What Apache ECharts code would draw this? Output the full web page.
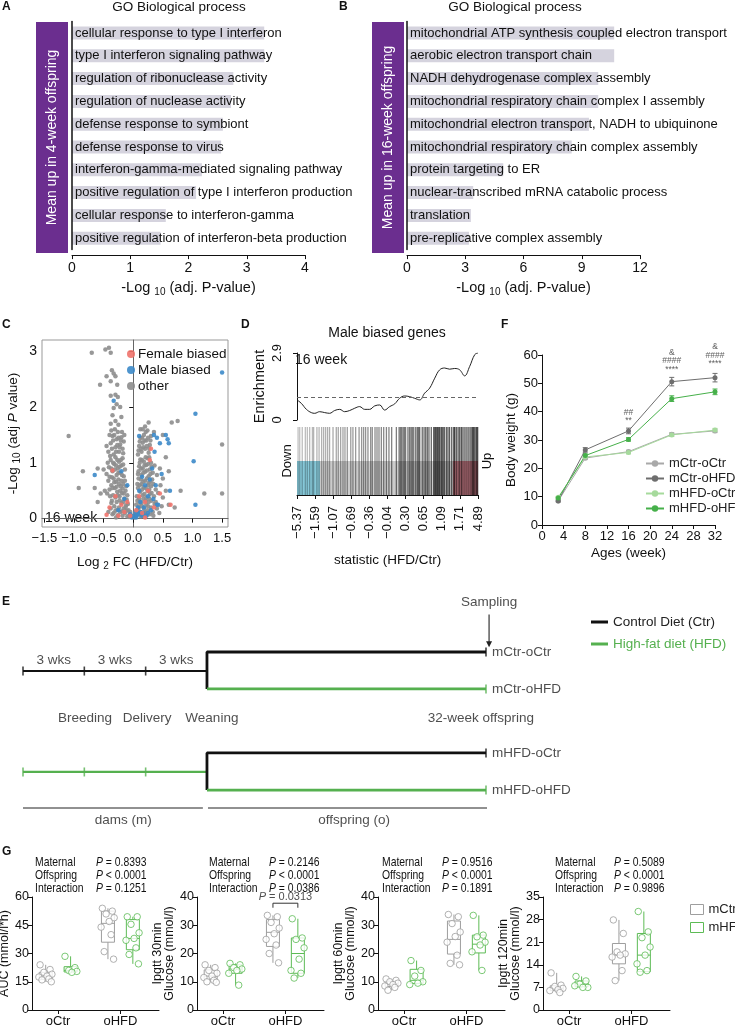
<!DOCTYPE html>
<html><head><meta charset="utf-8">
<script src="https://cdn.jsdelivr.net/npm/echarts@6/dist/echarts.min.js"></script>
<style>html,body{margin:0;padding:0;background:#fff}#c{width:735px;height:1028px}</style>
</head><body><div id="c"></div>
<script>
const FONT = '"Liberation Sans", Arial, Helvetica, sans-serif';

// ---------- Panel A / B : GO terms ----------
const termsA = ['cellular response to type I interferon','type I interferon signaling pathway','regulation of ribonuclease activity','regulation of nuclease activity','defense response to symbiont','defense response to virus','interferon-gamma-mediated signaling pathway','positive regulation of type I interferon production','cellular response to interferon-gamma','positive regulation of interferon-beta production'];
const valuesA = [3.30,3.30,2.77,2.73,2.59,2.56,2.23,2.13,1.61,1.52];
const termsB = ['mitochondrial ATP synthesis coupled electron transport','aerobic electron transport chain','NADH dehydrogenase complex assembly','mitochondrial respiratory chain complex I assembly','mitochondrial electron transport, NADH to ubiquinone','mitochondrial respiratory chain complex assembly','protein targeting to ER','nuclear-transcribed mRNA catabolic process','translation','pre-replicative complex assembly'];
const valuesB = [10.67,10.67,9.85,9.85,9.37,8.48,4.96,3.41,3.29,3.19];

// ---------- Panel C : volcano ----------
const volcanoOther = [[-0.42,0.12],[-0.38,0.18],[-0.35,0.08],[-0.32,0.22],[-0.3,0.14],[-0.28,0.3],[-0.26,0.06],[-0.24,0.2],[-0.22,0.12],[-0.2,0.28],[-0.18,0.05],[-0.16,0.18],[-0.14,0.1],[-0.12,0.24],[-0.1,0.04],[-0.08,0.15],[-0.06,0.08],[-0.04,0.03],[-0.3,0.38],[-0.36,0.32],
[-0.44,0.45],[-0.4,0.52],[-0.37,0.6],[-0.34,0.42],[-0.31,0.55],[-0.29,0.66],[-0.27,0.48],[-0.25,0.7],[-0.23,0.4],[-0.21,0.58],[-0.19,0.46],[-0.17,0.62],[-0.15,0.36],[-0.13,0.5],[-0.11,0.34],[-0.42,0.68],[-0.33,0.72],[-0.2,0.68],[-0.48,0.5],[-0.1,0.42],
[-0.45,0.8],[-0.41,0.92],[-0.38,1.05],[-0.35,0.85],[-0.32,0.98],[-0.3,1.1],[-0.28,0.78],[-0.26,0.9],[-0.24,1.02],[-0.22,0.82],[-0.2,0.95],[-0.18,1.08],[-0.16,0.76],[-0.14,0.88],[-0.43,1.0],[-0.36,0.74],[-0.5,0.88],
[-0.42,1.2],[-0.38,1.35],[-0.35,1.48],[-0.33,1.15],[-0.3,1.28],[-0.28,1.42],[-0.26,1.55],[-0.24,1.2],[-0.22,1.33],[-0.2,1.46],[-0.18,1.25],[-0.16,1.38],[-0.4,1.5],[-0.45,1.3],[-0.15,1.5],[-0.31,1.6],
[-0.38,1.7],[-0.3,1.75],[-0.25,1.68],[-0.35,1.85],[-0.2,1.82],[-0.33,1.98],[-0.28,2.05],[-0.22,2.0],[-0.38,2.2],[-0.3,2.22],[-0.26,2.18],[-0.56,2.4],[-0.27,2.4],[-0.45,2.55],[-0.3,2.55],[-0.38,2.46],[-0.36,2.66],[-0.33,2.6],[-0.47,3.03],[-0.41,3.06],[-0.38,2.97],[-0.7,2.97],
[-1.09,1.48],[-0.85,0.85],[-0.92,0.55],[-0.6,0.9],[-0.55,0.45],[-0.6,0.3],[-0.65,0.55],
[-0.37,0.28],[-0.33,0.1],[-0.29,0.02],[-0.27,0.16],[-0.23,0.33],[-0.19,0.13],[-0.17,0.3],[-0.13,0.2],[-0.11,0.14],[-0.09,0.26],[-0.07,0.03],[-0.05,0.12],[-0.39,0.4],[-0.35,0.55],[-0.32,0.65],[-0.28,0.57],[-0.26,0.42],[-0.24,0.62],[-0.22,0.5],[-0.18,0.54],[-0.16,0.45],[-0.14,0.68],[-0.12,0.58],[-0.4,0.75],[-0.37,0.9],[-0.34,1.0],[-0.31,0.88],[-0.29,0.95],[-0.27,1.05],[-0.25,0.82],[-0.23,0.93],[-0.21,1.05],[-0.19,0.78],[-0.17,0.97],[-0.39,1.12],[-0.36,1.25],[-0.34,1.4],[-0.32,1.5],[-0.29,1.2],[-0.27,1.32],[-0.25,1.45],[-0.23,1.28],[-0.21,1.4],[-0.19,1.55],[-0.17,1.17],[-0.37,1.58],
[0.04,0.05],[0.06,0.15],[0.08,0.08],[0.1,0.22],[0.12,0.12],[0.14,0.28],[0.16,0.06],[0.18,0.18],[0.2,0.1],[0.22,0.25],[0.24,0.15],[0.26,0.3],[0.28,0.08],[0.3,0.2],[0.33,0.12],[0.36,0.26],[0.4,0.18],[0.44,0.1],[0.02,0.02],[0.48,0.22],
[0.06,0.4],[0.08,0.55],[0.1,0.36],[0.12,0.48],[0.14,0.62],[0.16,0.42],[0.18,0.56],[0.2,0.68],[0.22,0.38],[0.24,0.5],[0.26,0.64],[0.28,0.44],[0.3,0.58],[0.32,0.7],[0.35,0.4],[0.38,0.52],[0.42,0.46],[0.46,0.6],[0.5,0.38],[0.55,0.5],
[0.08,0.8],[0.1,0.94],[0.12,1.06],[0.14,0.78],[0.16,0.9],[0.18,1.02],[0.2,0.84],[0.22,0.96],[0.24,1.08],[0.26,0.76],[0.28,0.88],[0.3,1.0],[0.33,0.82],[0.36,0.95],[0.4,0.78],[0.45,0.9],[0.5,0.72],
[0.08,1.15],[0.1,1.3],[0.12,1.45],[0.14,1.2],[0.16,1.36],[0.18,1.5],[0.2,1.25],[0.22,1.4],[0.24,1.58],[0.26,1.18],[0.28,1.32],[0.3,1.48],[0.2,1.65],[0.26,1.72],[0.35,1.55],[0.12,1.6],
[0.03,0.1],[0.05,0.25],[0.07,0.32],[0.09,0.18],[0.11,0.3],[0.13,0.04],[0.15,0.22],[0.17,0.35],[0.19,0.12],[0.21,0.32],[0.23,0.06],[0.25,0.22],[0.27,0.36],[0.31,0.32],[0.34,0.05],[0.38,0.3],[0.07,0.62],[0.09,0.72],[0.11,0.6],[0.13,0.7],[0.15,0.52],[0.17,0.66],[0.19,0.44],[0.21,0.55],[0.23,0.72],[0.25,0.6],[0.27,0.52],[0.29,0.66],[0.31,0.46],[0.34,0.62],[0.09,0.85],[0.11,1.0],[0.13,0.9],[0.15,1.05],[0.17,0.82],[0.19,0.95],[0.21,1.1],[0.23,0.86],[0.25,0.98],[0.27,1.1],[0.29,0.8],[0.31,0.93],[0.09,1.22],[0.11,1.38],[0.13,1.25],[0.15,1.45],[0.17,1.28],[0.19,1.4],[0.21,1.55],[0.23,1.3],[0.25,1.45],[0.27,1.25],[0.29,1.4],[0.16,1.6],
[0.5,1.5],[0.65,1.72],[0.75,1.75],[1.5,1.33],[1.2,0.45],[1.5,0.45],[0.8,0.5],[0.7,0.2],[0.6,0.85],[0.55,1.1],[0.6,0.25]];
const volcanoMale = [[-0.65,0.78],[-0.33,2.11],[-0.2,0.85],[-0.1,0.6],[0.1,0.5],[0.12,0.3],[0.15,0.75],[0.18,0.2],[0.2,0.6],[0.22,0.05],[0.25,0.4],[0.28,0.7],[0.3,0.15],[0.32,0.9],[0.34,0.35],[0.36,1.2],[0.38,0.6],[0.4,1.45],[0.42,0.25],[0.45,1.35],[0.48,0.8],[0.55,1.5],[0.6,1.35],[0.62,0.5],[0.35,1.5],[1.05,1.88],[1.02,1.03],[1.05,0.25],[1.5,2.62],[0.05,0.02],[0.08,0.1],[0.0,0.05],[-0.05,0.08],[0.15,0.05],[0.25,0.1],[-0.25,0.15],[-0.15,0.35],[0.58,1.42],[0.4,0.25],[0.1,1.48],
[0.02,0.03],[0.06,0.06],[0.1,0.08],[0.13,0.12],[0.04,0.12],[-0.02,0.02],[0.17,0.09],[0.08,0.2]];
const volcanoFemale = [[-0.45,0.07],[-0.4,0.2],[-0.35,0.86],[-0.3,0.4],[-0.25,0.05],[-0.2,0.25],[-0.15,0.12],[-0.1,0.3],[0.05,0.15],[0.1,0.4],[0.15,0.1],[0.2,0.3],[0.25,0.5],[0.28,1.05],[0.3,1.25],[0.35,0.2],[0.45,0.45],[0.63,0.25],[0.2,0.02],[-0.05,0.05]];
const volcanoTicksX = [-1.5,-1.0,-0.5,0,0.5,1.0,1.5];
const volcanoTicksY = [0,1,2,3];

// ---------- Panel D : barcode ----------
const enrichX = [0,0.024,0.052,0.079,0.098,0.125,0.153,0.180,0.208,0.236,0.263,0.291,0.319,0.346,0.374,0.401,0.429,0.457,0.484,0.512,0.540,0.567,0.595,0.622,0.650,0.678,0.705,0.733,0.761,0.788,0.816,0.843,0.871,0.899,0.926,0.954,0.982,1.0];
const enrichY = [0.87,0.72,0.46,0.32,0.29,0.36,0.32,0.29,0.41,0.46,0.36,0.41,0.51,0.58,0.46,0.46,0.61,0.65,0.43,0.58,0.70,0.94,1.04,1.01,0.94,0.87,1.16,1.38,1.81,2.17,2.25,2.20,2.23,2.17,1.91,2.32,2.83,2.90];
const barcodeRanks = [.006,.015,.029,.046,.057,.070,.085,.092,.110,.122,.136,.147,.158,.169,.180,.199,.217,.228,.241,.254,.265,.278,.297,.309,.324,.343,.357,.368,.379,.392,.407,.416,.431,.442,.453,.466,.479,.494,.508,.523,.549,.564,.571,.578,.586,.593,.600,.613,.622,.630,.637,.645,.656,.665,.672,.678,.692,.702,.711,.720,.729,.742,.755,.761,.766,.772,.777,.783,.788,.796,.801,.807,.814,.825,.834,.843,.855,.866,.871,.880,.890,.899,.908,.917,.928,.939,.950,.961,.969,.976,.983,.991,.998];
const barcodeTickPos = [0,0.1,0.2,0.3,0.4,0.5,0.6,0.7,0.8,0.9,1.0];
const barcodeTickLabels = ['\u22125.37','\u22121.59','\u22121.07','\u22120.69','\u22120.36','\u22120.04','0.30','0.65','1.09','1.71','4.89'];
const barcodeDown = [0, 0.127];
const barcodeUp = [0.862, 1];
const enrichThreshold = 1.0;

// ---------- Panel F : body weight ----------
const weeks = [3, 8, 16, 24, 32];
const bwCtrCtr = [8.5, 23.6, 25.9, 32.0, 33.2];
const bwCtrHfd = [8.5, 26.5, 33.2, 50.6, 52.0];
const bwHfdCtr = [9.8, 24.0, 25.6, 31.8, 33.5];
const bwHfdHfd = [9.5, 24.5, 30.2, 44.6, 47.0];
const seCtrCtr = [0.3, 0.5, 0.5, 0.6, 0.6];
const seCtrHfd = [0.3, 0.8, 1.0, 1.5, 1.5];
const seHfdCtr = [0.3, 0.5, 0.5, 0.5, 0.6];
const seHfdHfd = [0.3, 0.6, 0.6, 1.0, 1.0];
const fAnnoX = [16,16,24,24,24,32,32,32];
const fAnnoY = [39.5,36.8,60.7,57.9,55.0,62.8,59.7,56.8];
const fAnnoText = ['##','**','&','####','****','&','####','****'];

// ---------- Panel E : timeline ----------
const eDamsTicks = [0, 3, 6, 9];
const eEnd = 22.65;
const eRows = [0, 1.22, 2.37, 6.47, 7.69, 8.85, 10];
const eGroupNames = ['mCtr-oCtr','mCtr-oHFD','mHFD-oCtr','mHFD-oHFD'];
const eWksX = [1.5, 4.5, 7.5];
const eStageNames = ['Breeding','Delivery','Weaning','32-week offspring'];
const eStageX = [3.03, 6.07, 9.24, 22.4];
const eSampling = [-2.4, -0.3];

// ---------- Panel G : box plots ----------
const gGroupLabels = ['oCtr','oHFD'];
const gJitter = [-0.09,0.07,-0.03,0.10,0.02,-0.11,0.05,-0.06,0.09,-0.01];
const aucCtrOCtr = [24,21.5,20,19,18,17.5,16.5,16,15];
const aucHfdOCtr = [28.5,22.5,21,20.5,20];
const aucCtrOHfd = [54,52.5,51,49,47,44,40,31,27];
const aucHfdOHfd = [49.5,49.5,45.5,41,38,37,33,29.5,24.5];
const aucBoxCtr = [[15,16.3,18,20,24],[27,36,46,52.5,54]];
const aucBoxHfd = [[20,20.2,21,23,28.5],[24.5,32,38,48,49.5]];
const g30CtrOCtr = [16,15,14,13,12,11.5,10.5,10,9.8];
const g30HfdOCtr = [16.5,16,15,14.5,14,13,8.8];
const g30CtrOHfd = [33.5,33,31,29,27,25,23,20,16.7];
const g30HfdOHfd = [32.3,25.5,25,22,18,14,13,11.3];
const g30BoxCtr = [[9.8,10.8,12,14.2,16],[16.7,22.5,27.5,32,33.5]];
const g30BoxHfd = [[8.8,13,14.5,16,16.5],[11.3,13,20,25.5,32.3]];
const g60CtrOCtr = [11,10.5,10,9.5,9,8.5,8,7];
const g60HfdOCtr = [17.5,14,12,10,9.5,9];
const g60CtrOHfd = [33.8,33,30.6,27.6,26,24,19.4,16.5,16];
const g60HfdOHfd = [33.5,26.5,25.9,24,23,20.6,14];
const g60BoxCtr = [[7,8.3,9.3,10.2,11],[16,19.8,25,31.5,33.8]];
const g60BoxHfd = [[9,9.4,10.5,14.4,17.5],[14,20.2,23.3,26.5,33.5]];
const g120CtrOCtr = [11.5,7.7,7.3,6.7,6.3,6,5.4];
const g120HfdOCtr = [10.4,9,8,7,7,7.5];
const g120CtrOHfd = [27.9,23.7,18,17.4,17,16.4,12.2,9.1];
const g120HfdOHfd = [30.5,24.2,22.4,19.5,17,14.3,12.2,11.7];
const g120BoxCtr = [[5.4,6,6.7,7.5,11.5],[9.1,14.3,17,20.6,27.9]];
const g120BoxHfd = [[7,7.2,8,9,10.4],[11.7,11.9,17,23.7,30.5]];
const gNames = ['AUC (mmol/l*h)','Ipgtt 30min\nGlucose (mmol/l)','Ipgtt 60min\nGlucose (mmol/l)','Ipgtt 120min\nGlucose (mmol/l)'];
const gMax = [60,40,40,35];
const gInterval = [15,10,10,7];
const gStatLabels = ['Maternal','Offspring','Interaction'];
const gStats = [['= 0.8393','< 0.0001','= 0.1251'],['= 0.2146','< 0.0001','= 0.0386'],['= 0.9516','< 0.0001','= 0.1891'],['= 0.5089','< 0.0001','= 0.9896']];
const gPair = [1.8, 2.2];
const gPairY = 37.8;
const gPairP = '0.0313';

// ---------- helpers ----------
const C_BLACK = '#111';
const GREEN = '#55b04f';
function merge(a, b) {
  const o = Object.assign({}, a);
  for (const k in b) {
    if (b[k] && typeof b[k] === 'object' && !Array.isArray(b[k]) && a && a[k] && typeof a[k] === 'object' && !Array.isArray(a[k])) o[k] = merge(a[k], b[k]);
    else o[k] = b[k];
  }
  return o;
}
const baseAxis = {
  axisLine: {show: true, lineStyle: {color: C_BLACK, width: 1}},
  axisTick: {show: true, length: 4, lineStyle: {color: C_BLACK, width: 1}},
  axisLabel: {color: C_BLACK, fontSize: 13, fontFamily: FONT},
  splitLine: {show: false},
  nameTextStyle: {color: C_BLACK, fontSize: 13, fontFamily: FONT}
};
const ax = (o) => merge(baseAxis, o);
const hidden = (o) => Object.assign({show: false, splitLine: {show: false}}, o);

const grids = [
  {left: 72, top: 21.6, width: 233, height: 228},     // 0 A
  {left: 407, top: 21.6, width: 233, height: 228},    // 1 B
  {left: 42, top: 340, width: 186, height: 187, show: true, borderColor: '#999', borderWidth: 1}, // 2 C
  {left: 297, top: 353, width: 181, height: 67},      // 3 D enrichment
  {left: 297, top: 427, width: 181, height: 68},      // 4 D barcode
  {left: 542, top: 355, width: 173, height: 170},     // 5 F
  {left: 23, top: 589.6, width: 463, height: 234},    // 6 E
  {left: 32, top: 897, width: 127, height: 113},      // 7 G1
  {left: 197, top: 897, width: 127, height: 113},     // 8 G2
  {left: 378, top: 897, width: 127, height: 113},     // 9 G3
  {left: 543, top: 897, width: 127, height: 113}      // 10 G4
].map(g => Object.assign({outerBoundsMode: 'none', containLabel: false}, g));

const goName = '-Log {s|10} (adj. P-value)';
const goNameStyle = {fontSize: 14.5, color: C_BLACK, fontFamily: FONT, rich: {s: {fontSize: 10, padding: [8, 0, 0, 0], fontFamily: FONT, color: C_BLACK}}};

const xAxes = [
  ax({gridIndex: 0, type: 'value', min: 0, max: 4, interval: 1, offset: 5.5, axisLabel: {fontSize: 14, margin: 6}, name: goName, nameLocation: 'middle', nameGap: 24, nameTextStyle: goNameStyle}),
  ax({gridIndex: 1, type: 'value', min: 0, max: 12, interval: 3, offset: 5.5, axisLabel: {fontSize: 14, margin: 6}, name: goName, nameLocation: 'middle', nameGap: 24, nameTextStyle: goNameStyle}),
  ax({gridIndex: 2, type: 'value', min: -1.54, max: 1.60, axisLine: {lineStyle: {color: '#666'}},
      axisTick: {customValues: volcanoTicksX}, axisLabel: {customValues: volcanoTicksX, margin: 5, formatter: v => (v < 0 ? '\u2212' : '') + Math.abs(v).toFixed(1)},
      name: 'Log {s|2} FC (HFD/Ctr)', nameLocation: 'middle', nameGap: 26,
      nameTextStyle: {fontSize: 13.5, rich: {s: {fontSize: 10, padding: [8, 0, 0, 0], color: C_BLACK}}}}),
  hidden({gridIndex: 3, type: 'value', min: 0, max: 1}),
  ax({gridIndex: 4, type: 'value', min: 0, max: 1, offset: 5,
      axisTick: {customValues: barcodeTickPos, length: 4}, axisLabel: {customValues: barcodeTickPos, rotate: 90, margin: 6, fontSize: 13, formatter: v => barcodeTickLabels[Math.round(v * 10)]},
      name: 'statistic (HFD/Ctr)', nameLocation: 'middle', nameGap: 53, nameTextStyle: {fontSize: 13.5}}),
  ax({gridIndex: 5, type: 'value', min: 0, max: 32, interval: 4, axisLabel: {margin: 5}, name: 'Ages (week)', nameLocation: 'middle', nameGap: 21, nameTextStyle: {fontSize: 13.5}}),
  hidden({gridIndex: 6, type: 'value', min: 0, max: eEnd}),
];
const yAxes = [
  {gridIndex: 0, type: 'category', data: termsA, inverse: true, z: 5, axisLine: {show: true, lineStyle: {color: C_BLACK, width: 1.5}}, axisTick: {show: false}, axisLabel: {show: false}, splitLine: {show: false}},
  {gridIndex: 1, type: 'category', data: termsB, inverse: true, z: 5, axisLine: {show: true, lineStyle: {color: C_BLACK, width: 1.5}}, axisTick: {show: false}, axisLabel: {show: false}, splitLine: {show: false}},
  ax({gridIndex: 2, type: 'value', min: -0.15, max: 3.2, axisLine: {lineStyle: {color: '#666'}},
      axisTick: {customValues: volcanoTicksY}, axisLabel: {customValues: volcanoTicksY, fontSize: 14, margin: 5},
      name: '-Log {s|10} (adj {i|P} value)', nameLocation: 'middle', nameGap: 20,
      nameTextStyle: {fontSize: 13.5, rich: {s: {fontSize: 10, padding: [8, 0, 0, 0], color: C_BLACK}, i: {fontStyle: 'italic', fontSize: 13.5, color: C_BLACK}}}}),
  ax({gridIndex: 3, type: 'value', min: 0, max: 2.9, offset: 8,
      axisTick: {customValues: [0, 2.9], length: 4}, axisLabel: {customValues: [0, 2.9], rotate: 90, margin: 5, fontSize: 13},
      name: 'Enrichment', nameLocation: 'middle', nameGap: 22, nameTextStyle: {fontSize: 14.5}}),
  {gridIndex: 4, type: 'value', min: 0, max: 1, axisLine: {show: false}, axisTick: {show: false}, axisLabel: {show: false}, splitLine: {show: false},
      name: 'Down', nameLocation: 'middle', nameGap: 3, nameRotate: 90, nameTextStyle: {fontSize: 13, color: C_BLACK, fontFamily: FONT}},
  ax({gridIndex: 5, type: 'value', min: 0, max: 60, interval: 10, axisLabel: {margin: 4}, name: 'Body weight (g)', nameLocation: 'middle', nameGap: 24, nameTextStyle: {fontSize: 13.5}}),
  hidden({gridIndex: 6, type: 'value', min: -4, max: 11, inverse: true}),
];
for (let p = 0; p < 4; p++) {
  xAxes.push(ax({gridIndex: 7 + p, type: 'value', min: 0.58, max: 2.62,
    axisTick: {customValues: [1, 2]}, axisLabel: {customValues: [1, 2], margin: 5, fontSize: 13, formatter: v => gGroupLabels[Math.round(v) - 1]}}));
  yAxes.push(ax({gridIndex: 7 + p, type: 'value', min: 0, max: gMax[p], interval: gInterval[p], axisLabel: {margin: 3, fontSize: 12.5},
    name: gNames[p], nameLocation: 'middle', nameGap: [19, 8, 12, 8][p], nameTextStyle: {fontSize: 12.5, lineHeight: 12}}));
}
yAxes.push({gridIndex: 4, type: 'value', position: 'right', min: 0, max: 1, axisLine: {show: false}, axisTick: {show: false}, axisLabel: {show: false}, splitLine: {show: false},
  name: 'Up', nameLocation: 'middle', nameGap: 3, nameRotate: 90, nameTextStyle: {fontSize: 13, color: C_BLACK, fontFamily: FONT}});

const series = [];
[[valuesA, 0], [valuesB, 1]].forEach(([vals, gi]) => {
  series.push({type: 'bar', xAxisIndex: gi, yAxisIndex: gi, data: vals, barWidth: 13, silent: true,
    itemStyle: {color: '#d5d3de'},
    label: {show: true, position: 'insideLeft', distance: 3, formatter: p => p.name, color: '#111', fontSize: 13, fontFamily: FONT}});
});
const vSym = {type: 'scatter', xAxisIndex: 2, yAxisIndex: 2, symbolSize: 4.5, silent: true};
series.push(Object.assign({name: 'other', data: volcanoOther, itemStyle: {color: '#8d8d8d', opacity: 0.9}}, vSym));
series.push(Object.assign({name: 'Male biased', data: volcanoMale, itemStyle: {color: '#3c89c9', opacity: 0.9}}, vSym));
series.push(Object.assign({name: 'Female biased', data: volcanoFemale, itemStyle: {color: '#ef736b', opacity: 0.9}}, vSym));
series.push({type: 'line', xAxisIndex: 3, yAxisIndex: 3, data: enrichX.map((x, i) => [x, enrichY[i]]), smooth: 0.4, showSymbol: false, symbol: 'none', silent: true,
  lineStyle: {color: '#222', width: 1},
  markLine: {silent: true, symbol: 'none', label: {show: false}, lineStyle: {type: [4, 3], color: '#666', width: 1}, data: [{yAxis: enrichThreshold}]}});
series.push({type: 'scatter', xAxisIndex: 4, yAxisIndex: 4, data: [[0.5, -1]], symbolSize: 0, z: 1, silent: true,
  markArea: {silent: true, data: [
    [{coord: [0, 0], itemStyle: {color: '#cbcbcb'}}, {coord: [1, 0.5]}],
    [{coord: [barcodeDown[0], 0], itemStyle: {color: '#86c8d8'}}, {coord: [barcodeDown[1], 0.5]}],
    [{coord: [barcodeUp[0], 0], itemStyle: {color: '#e8909c'}}, {coord: [barcodeUp[1], 0.5]}]
  ]}});
series.push({type: 'scatter', xAxisIndex: 4, yAxisIndex: 4, z: 3, silent: true, symbol: 'rect', symbolSize: [1.3, 68],
  data: barcodeRanks.map(r => [r, 0.5]),
  itemStyle: {color: p => 'rgba(0,0,0,' + (0.3 + 0.6 * p.value[0]).toFixed(2) + ')'}});
const fSeries = [['mCtr-oCtr', bwCtrCtr, seCtrCtr, '#a9a9a9'], ['mCtr-oHFD', bwCtrHfd, seCtrHfd, '#6e6e6e'], ['mHFD-oCtr', bwHfdCtr, seHfdCtr, '#a6da9c'], ['mHFD-oHFD', bwHfdHfd, seHfdHfd, '#46b04a']];
fSeries.forEach(([name, vals, se, col]) => {
  series.push({type: 'line', name, xAxisIndex: 5, yAxisIndex: 5, data: weeks.map((w, i) => [w, vals[i]]), symbol: 'circle', symbolSize: 5, silent: true,
    lineStyle: {color: col, width: 1}, itemStyle: {color: col}});
  series.push({type: 'custom', name: name + ' se', xAxisIndex: 5, yAxisIndex: 5, silent: true, data: weeks.map((w, i) => [w, vals[i], se[i]]),
    encode: {x: 0, y: 1},
    renderItem: (params, api) => {
      const x = api.value(0), m = api.value(1), e = api.value(2);
      const t = api.coord([x, m + e]), b = api.coord([x, m - e]);
      const st = {stroke: col, lineWidth: 1};
      return {type: 'group', children: [
        {type: 'line', shape: {x1: t[0], y1: t[1], x2: b[0], y2: b[1]}, style: st},
        {type: 'line', shape: {x1: t[0] - 2.5, y1: t[1], x2: t[0] + 2.5, y2: t[1]}, style: st},
        {type: 'line', shape: {x1: b[0] - 2.5, y1: b[1], x2: b[0] + 2.5, y2: b[1]}, style: st}]};
    }});
});
series.push({type: 'scatter', xAxisIndex: 5, yAxisIndex: 5, symbolSize: 0, clip: false, silent: true,
  data: fAnnoX.map((x, i) => ({value: [x, fAnnoY[i]], name: fAnnoText[i]})),
  label: {show: true, position: 'inside', formatter: p => p.name, fontSize: 8.5, color: '#333', fontFamily: FONT}});
// E timeline
const lineS = (name, pts, color, width) => ({type: 'line', name, xAxisIndex: 6, yAxisIndex: 6, data: pts, symbol: 'none', silent: true, clip: false,
  lineStyle: {color, width}, itemStyle: {color}});
series.push(lineS('Control Diet (Ctr)', [[eDamsTicks[0], eRows[1]], [eDamsTicks[3], eRows[1]]], C_BLACK, 2));
series.push(lineS('Control Diet (Ctr)', [[eEnd, eRows[0]], [eDamsTicks[3], eRows[0]], [eDamsTicks[3], eRows[2]]], C_BLACK, 2.8));
series.push(lineS('High-fat diet (HFD)', [[eDamsTicks[3], eRows[2]], [eEnd, eRows[2]]], GREEN, 2.8));
series.push(lineS('High-fat diet (HFD)', [[eDamsTicks[0], eRows[4]], [eDamsTicks[3], eRows[4]]], GREEN, 2.2));
series.push(lineS('Control Diet (Ctr)', [[eEnd, eRows[3]], [eDamsTicks[3], eRows[3]], [eDamsTicks[3], eRows[5]]], C_BLACK, 2.8));
series.push(lineS('High-fat diet (HFD)', [[eDamsTicks[3], eRows[5]], [eEnd, eRows[5]]], GREEN, 2.8));
series.push(lineS('base', [[0, eRows[6]], [8.8, eRows[6]]], '#222', 1));
series.push(lineS('base', [[9.05, eRows[6]], [eEnd + 0.1, eRows[6]]], '#222', 1));
series.push({type: 'custom', name: 'sampling', xAxisIndex: 6, yAxisIndex: 6, silent: true, clip: false,
  data: [[eEnd + 0.15, eSampling[0], eSampling[1]]], encode: {x: 0, y: [1, 2]},
  renderItem: (params, api) => {
    const a = api.coord([api.value(0), api.value(1)]), b = api.coord([api.value(0), api.value(2)]);
    return {type: 'group', children: [
      {type: 'line', shape: {x1: a[0], y1: a[1], x2: b[0], y2: b[1] - 5}, style: {stroke: '#222', lineWidth: 1.1}},
      {type: 'polygon', shape: {points: [[b[0] - 3, b[1] - 6], [b[0] + 3, b[1] - 6], [b[0], b[1]]]}, style: {fill: '#222'}}]};
  }});
const tickS = (pts, color) => ({type: 'scatter', xAxisIndex: 6, yAxisIndex: 6, data: pts, symbol: 'rect', symbolSize: [1.6, 9], silent: true, clip: false, itemStyle: {color}});
series.push(tickS(eDamsTicks.slice(0, 3).map(x => [x, eRows[1]]).concat([[eEnd, eRows[0]], [eEnd, eRows[3]]]), C_BLACK));
series.push(tickS(eDamsTicks.slice(0, 3).map(x => [x, eRows[4]]).concat([[eEnd, eRows[2]], [eEnd, eRows[5]]]), GREEN));
const eText = {fontSize: 13.5, color: '#222', fontFamily: FONT};
series.push({type: 'scatter', xAxisIndex: 6, yAxisIndex: 6, symbolSize: 0, silent: true, clip: false,
  data: [eRows[0], eRows[2], eRows[3], eRows[5]].map((y, i) => ({value: [eEnd, y], name: eGroupNames[i]})),
  label: Object.assign({show: true, position: 'right', distance: 6, formatter: p => p.name}, eText)});
series.push({type: 'scatter', xAxisIndex: 6, yAxisIndex: 6, symbolSize: 0, silent: true, clip: false,
  data: eWksX.map(x => ({value: [x, 0.5], name: '3 wks'}))
    .concat(eStageX.map((x, i) => ({value: [x, 4.23], name: eStageNames[i]})))
    .concat([{value: [4.9, 10.8], name: 'dams (m)'}, {value: [16.2, 10.8], name: 'offspring (o)'}, {value: [eEnd + 0.15, -3.2], name: 'Sampling'}]),
  label: Object.assign({show: true, position: 'inside', formatter: p => p.name}, eText)});
// G
const gPts = [[aucCtrOCtr, aucCtrOHfd, aucHfdOCtr, aucHfdOHfd], [g30CtrOCtr, g30CtrOHfd, g30HfdOCtr, g30HfdOHfd], [g60CtrOCtr, g60CtrOHfd, g60HfdOCtr, g60HfdOHfd], [g120CtrOCtr, g120CtrOHfd, g120HfdOCtr, g120HfdOHfd]];
const gBoxes = [[aucBoxCtr, aucBoxHfd], [g30BoxCtr, g30BoxHfd], [g60BoxCtr, g60BoxHfd], [g120BoxCtr, g120BoxHfd]];
const gCols = ['#9e9e9e', '#5dbb55'];
const boxRender = (col) => (params, api) => {
  const x = api.value(0);
  const lo = api.coord([x, api.value(1)]), q1 = api.coord([x, api.value(2)]), md = api.coord([x, api.value(3)]), q3 = api.coord([x, api.value(4)]), hi = api.coord([x, api.value(5)]);
  const w = 13, st = {stroke: col, fill: 'none', lineWidth: 1};
  return {type: 'group', children: [
    {type: 'line', shape: {x1: lo[0], y1: lo[1], x2: q1[0], y2: q1[1]}, style: st},
    {type: 'line', shape: {x1: q3[0], y1: q3[1], x2: hi[0], y2: hi[1]}, style: st},
    {type: 'rect', shape: {x: q3[0] - w / 2, y: q3[1], width: w, height: q1[1] - q3[1]}, style: st},
    {type: 'line', shape: {x1: md[0] - w / 2, y1: md[1], x2: md[0] + w / 2, y2: md[1]}, style: st}]};
};
for (let p = 0; p < 4; p++) {
  ['mCtr', 'mHFD'].forEach((nm, k) => {
    const dx = k === 0 ? -0.2 : 0.2;
    series.push({type: 'custom', name: nm, xAxisIndex: 7 + p, yAxisIndex: 7 + p, silent: true, encode: {x: 0, y: [1, 2, 3, 4, 5]},
      itemStyle: {color: '#fff', borderColor: gCols[k]},
      data: gBoxes[p][k].map((b, gi) => [gi + 1 + dx].concat(b)), renderItem: boxRender(gCols[k])});
    const pts = [];
    [gPts[p][k * 2], gPts[p][k * 2 + 1]].forEach((vals, gi) => vals.forEach((v, i) => pts.push([gi + 1 + dx + gJitter[i % gJitter.length], v])));
    series.push({type: 'scatter', name: nm + ' pts', xAxisIndex: 7 + p, yAxisIndex: 7 + p, silent: true, data: pts, symbol: 'circle', symbolSize: 6.5, clip: false,
      itemStyle: {color: '#fff', borderColor: gCols[k], borderWidth: 1}});
  });
}
series.push({type: 'line', xAxisIndex: 8, yAxisIndex: 8, symbol: 'none', silent: true, clip: false,
  data: [[gPair[0], gPairY - 1.6], [gPair[0], gPairY], [gPair[1], gPairY], [gPair[1], gPairY - 1.6]], lineStyle: {color: '#333', width: 1}});
series.push({type: 'scatter', xAxisIndex: 8, yAxisIndex: 8, symbolSize: 0, silent: true, clip: false,
  data: [{value: [(gPair[0] + gPair[1]) / 2, gPairY], name: gPairP}],
  label: {show: true, position: 'top', distance: 1, formatter: p => '{i|P} = ' + p.name, fontSize: 11, color: '#222', fontFamily: FONT, rich: {i: {fontStyle: 'italic', fontSize: 11, fontFamily: FONT, color: '#222'}}}});

// ---------- graphics (text labels) ----------
const graphic = [];
const txt = (x, y, text, o) => graphic.push({type: 'text', x, y, silent: true, rotation: (o && o.rot) || 0, scaleX: (o && o.sx) || 1,
  style: Object.assign({text, fill: '#111', font: (o && o.font) || ('13px ' + FONT), align: 'left', verticalAlign: 'middle'}, (o && o.style) || {})});
[['A', 2, 7], ['B', 339, 7], ['C', 2, 325], ['D', 241, 325], ['E', 2, 602], ['F', 501, 325], ['G', 2, 852]].forEach(([t, x, y]) => txt(x, y, t, {font: 'bold 12px ' + FONT}));
txt(179, 7, 'GO Biological process', {font: '13.5px ' + FONT, style: {align: 'center'}});
txt(515, 7, 'GO Biological process', {font: '13.5px ' + FONT, style: {align: 'center'}});
txt(387, 333, 'Male biased genes', {font: '14px ' + FONT, style: {align: 'center'}});
graphic.push({type: 'rect', silent: true, shape: {x: 36, y: 22, width: 32, height: 231}, style: {fill: '#6b2e8f'}});
graphic.push({type: 'rect', silent: true, shape: {x: 372, y: 22, width: 32, height: 231}, style: {fill: '#6b2e8f'}});
txt(52, 137.5, 'Mean up in 4-week offspring', {rot: Math.PI / 2, font: '14px ' + FONT, style: {fill: '#fff', align: 'center'}});
txt(388, 137.5, 'Mean up in 16-week offspring', {rot: Math.PI / 2, font: '14px ' + FONT, style: {fill: '#fff', align: 'center'}});
txt(45, 518, '16 week', {font: '14px ' + FONT});
txt(295, 360, '16 week', {font: '14px ' + FONT});
const gColX = [[35, 96], [209, 269], [382, 442], [555, 614]];
const gRowY = [862, 875, 888];
gStats.forEach((st, p) => {
  gStatLabels.forEach((lab, r) => {
    txt(gColX[p][0], gRowY[r], lab, {font: '13px ' + FONT, sx: 0.8});
    graphic.push({type: 'text', x: gColX[p][1], y: gRowY[r], silent: true, scaleX: 0.8, style: {text: '{i|P} ' + st[r], fill: '#111', font: '13px ' + FONT, verticalAlign: 'middle',
      rich: {i: {fontStyle: 'italic', fontSize: 13, fontFamily: FONT, fill: '#111'}}}});
  });
});

const legends = [
  {left: 122, top: 342, orient: 'vertical', icon: 'circle', itemWidth: 8, itemHeight: 8, itemGap: 2, selectedMode: false,
    data: ['Female biased', 'Male biased', 'other'], textStyle: {fontSize: 13.5, color: '#111', fontFamily: FONT, padding: [0, 0, 0, -2]}},
  {left: 640, top: 452, orient: 'vertical', itemWidth: 18, itemHeight: 8, itemGap: 2, selectedMode: false,
    data: ['mCtr-oCtr', 'mCtr-oHFD', 'mHFD-oCtr', 'mHFD-oHFD'], textStyle: {fontSize: 13, color: '#222', fontFamily: FONT}},
  {left: 586, top: 610, orient: 'vertical', itemWidth: 17, itemHeight: 3, itemGap: 8, selectedMode: false, icon: 'rect',
    data: [{name: 'Control Diet (Ctr)', itemStyle: {color: C_BLACK}, textStyle: {color: '#222'}}, {name: 'High-fat diet (HFD)', itemStyle: {color: GREEN}, textStyle: {color: GREEN}}],
    textStyle: {fontSize: 13.5, fontFamily: FONT}},
  {left: 685, top: 898, orient: 'vertical', itemWidth: 13, itemHeight: 10, itemGap: 5, selectedMode: false, icon: 'rect',
    data: [{name: 'mCtr', itemStyle: {color: '#fff', borderColor: '#9e9e9e', borderWidth: 1}}, {name: 'mHFD', itemStyle: {color: '#fff', borderColor: '#5dbb55', borderWidth: 1}}],
    textStyle: {fontSize: 13, color: '#222', fontFamily: FONT}}
];

const chart = echarts.init(document.getElementById('c'), null, {renderer: 'canvas'});
chart.setOption({animation: false, backgroundColor: '#fff', textStyle: {fontFamily: FONT},
  grid: grids, xAxis: xAxes, yAxis: yAxes, legend: legends, graphic, series});
</script></body></html>
